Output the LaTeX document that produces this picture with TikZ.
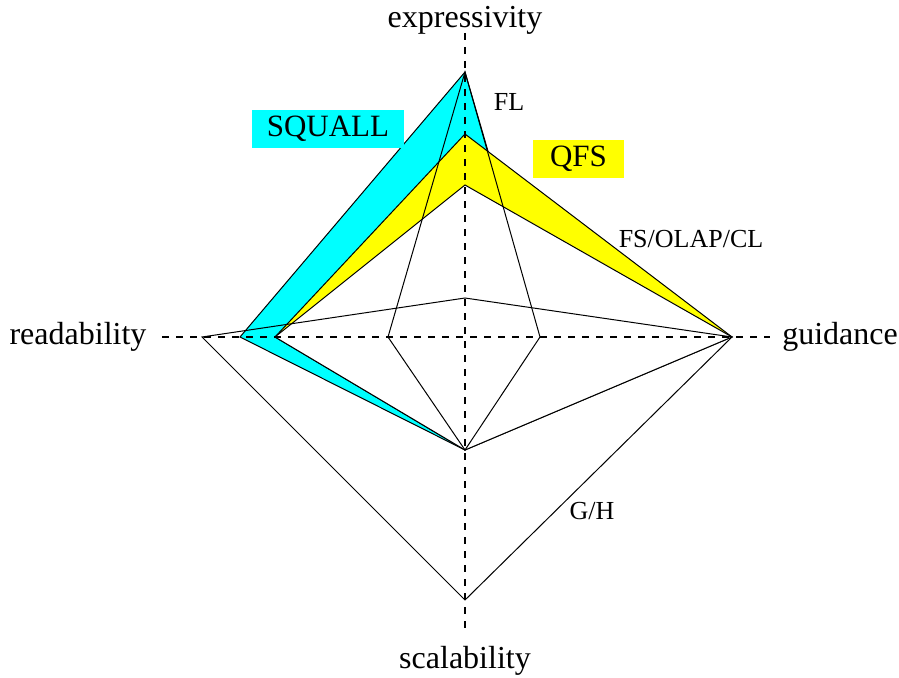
\documentclass[tikz,border=0pt]{standalone}
\usepackage{fontspec}
\setmainfont{Liberation Serif}
\definecolor{sqcyan}{RGB}{0,255,255}
\definecolor{qfsyellow}{RGB}{255,255,0}
\begin{document}
\begin{tikzpicture}[x=1pt,y=-1pt,
  axis/.style={line width=1.2pt,dash pattern=on 7pt off 7pt},
  poly/.style={line width=1pt,line join=miter},
  biglabel/.style={font=\fontsize{32}{36}\selectfont,inner sep=0pt},
  smalllabel/.style={font=\fontsize{26}{30}\selectfont,inner sep=0pt},
  boxlabel/.style={font=\fontsize{31}{34}\selectfont,inner sep=0pt,minimum height=38pt}]
\useasboundingbox (0,0) rectangle (899,677);
% axes end points
\coordinate (axT) at (465,33);
\coordinate (axB) at (465,628);
\coordinate (axL) at (162,337);
\coordinate (axR) at (770,337);
% vertices
\coordinate (top1) at (465,72);
\coordinate (top2) at (465,134);
\coordinate (top3) at (465,185);
\coordinate (top4) at (465,298);
\coordinate (bot1) at (465,450);
\coordinate (bot2) at (465,600);
\coordinate (lft1) at (202,337);
\coordinate (lft2) at (240,337);
\coordinate (lft3) at (275,337);
\coordinate (lft4) at (388,337);
\coordinate (rgt1) at (732,337);
\coordinate (rgt2) at (542,337);
\coordinate (rgt3) at (540,337);
% SQUALL
\filldraw[poly,fill=sqcyan] (top1) -- (rgt2) -- (bot1) -- (lft2) -- cycle;
% QFS
\filldraw[poly,fill=qfsyellow] (top2) -- (rgt1) -- (bot1) -- (lft3) -- cycle;
% FS/OLAP/CL
\filldraw[poly,fill=white] (top3) -- (rgt1) -- (bot1) -- (lft3) -- cycle;
% G/H
\draw[poly] (top4) -- (rgt1) -- (bot2) -- (lft1) -- cycle;
% FL
\draw[poly] (top1) -- (rgt3) -- (bot1) -- (lft4) -- cycle;
% axes on top
\draw[axis] (axT) -- (axB);
\draw[axis] (axL) -- (axR);
% labels
\node[biglabel] (lexp) at (465,20) {expressivity};
\node[biglabel] (lsca) at (465,661) {scalability};
\node[biglabel] (lrea) at (78,337) {readability};
\node[biglabel] (lgui) at (840,337) {guidance};
\node[smalllabel] (lfl) at (509,102) {FL};
\node[smalllabel] (lfs) at (691,239) {FS/OLAP/CL};
\node[smalllabel] (lgh) at (592,511) {G/H};
\node[boxlabel,fill=sqcyan,minimum width=152pt] (lsq) at (328,129) {SQUALL};
\node[boxlabel,fill=qfsyellow,minimum width=91pt] (lqfs) at (578.5,159) {QFS};
\end{tikzpicture}
\end{document}
